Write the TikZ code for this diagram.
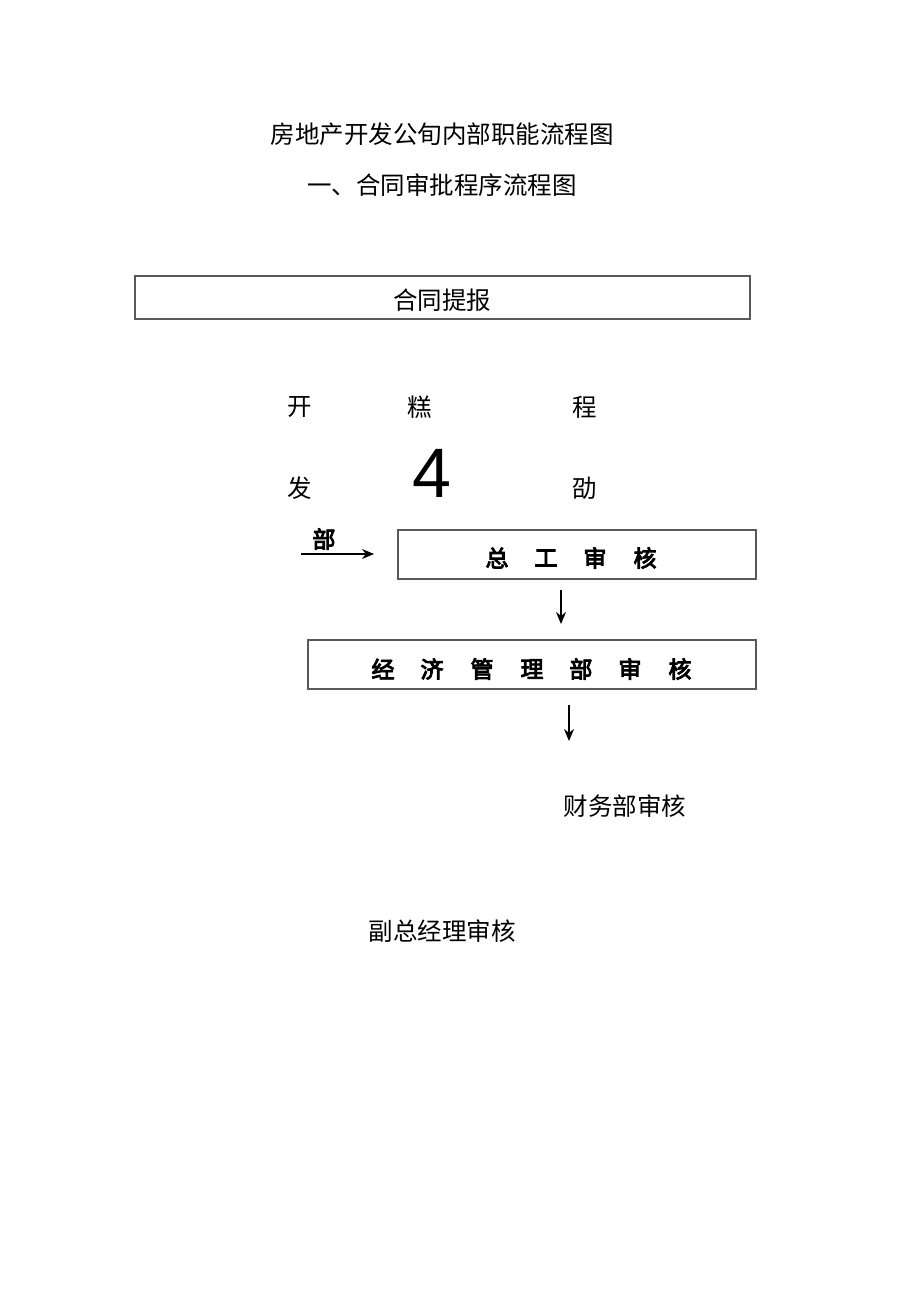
\documentclass[tikz,border=0pt]{standalone}
\usepackage{fontspec}
\setmainfont{Liberation Sans}
\newfontfamily\cjk{Noto Sans CJK SC}
\newfontfamily\cjkb{Noto Sans CJK SC}[FakeBold=4]
\usetikzlibrary{arrows.meta}
\begin{document}
\begin{tikzpicture}[x=1pt,y=-1pt,
  txt/.style={inner sep=0pt,font=\fontsize{24.5}{26}\cjk},
  btxt/.style={inner sep=0pt,font=\fontsize{23}{25}\cjkb},
  frame/.style={draw=black!65,line width=1.1pt,fill=none},
  arr/.style={draw=black,line width=1.2pt,-{Stealth[length=12pt,width=10pt]}}]
\useasboundingbox[fill=white] (0,0) rectangle (920,1301);
\node[txt] (t1) at (442,134) {房地产开发公旬内部职能流程图};
\node[txt] (t2) at (442,185) {一、合同审批程序流程图};
\node[frame,minimum width=615pt,minimum height=43pt,inner sep=0pt] (b1) at (442.5,297.5) {};
\node[txt] (b1t) at (442,300) {合同提报};
\node[txt] (k1) at (300,407) {开};
\node[txt] (k2) at (420,407) {糕};
\node[txt] (k3) at (585,407) {程};
\node[txt] (k4) at (300,488) {发};
\node[inner sep=0pt,font=\fontsize{70}{70}\selectfont] (k5) at (432,473) {4};
\node[txt] (k6) at (585,488) {劭};
\node[btxt] (bu) at (324,539) {部};
\coordinate (a0) at (301,554);
\coordinate (a1) at (374,554);
\draw[arr] (a0) -- (a1);
\node[frame,minimum width=358pt,minimum height=49pt,inner sep=0pt] (b2) at (577,554.5) {};
\node[btxt] (b2a) at (497,558) {总};
\node[btxt] (b2b) at (546,558) {工};
\node[btxt] (b2c) at (595,558) {审};
\node[btxt] (b2d) at (645,558) {核};
\coordinate (c0) at (561,590);
\coordinate (c1) at (561,624);
\draw[arr] (c0) -- (c1);
\node[frame,minimum width=448pt,minimum height=49pt,inner sep=0pt] (b3) at (532,664.5) {};
\node[btxt] (b3a) at (383,669) {经};
\node[btxt] (b3b) at (432,669) {济};
\node[btxt] (b3c) at (482,669) {管};
\node[btxt] (b3d) at (532,669) {理};
\node[btxt] (b3e) at (581,669) {部};
\node[btxt] (b3f) at (630,669) {审};
\node[btxt] (b3g) at (680,669) {核};
\coordinate (d0) at (569,705);
\coordinate (d1) at (569,741);
\draw[arr] (d0) -- (d1);
\node[txt] (f1) at (625,806) {财务部审核};
\node[txt] (f2) at (442,931) {副总经理审核};
\end{tikzpicture}
\end{document}
